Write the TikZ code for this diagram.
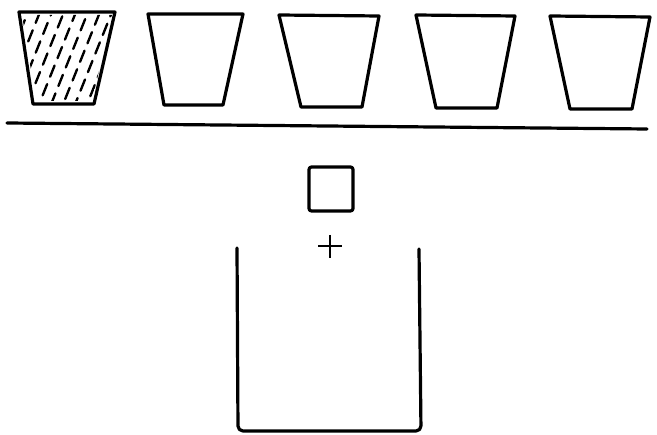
\documentclass[tikz,border=0pt]{standalone}
\begin{document}
\begin{tikzpicture}[x=1pt,y=-1pt,
  ink/.style={line width=3.2pt,line join=round,line cap=round},
  hatchline/.style={line width=2.4pt,line cap=round,dash pattern=on 12pt off 8pt}]
\useasboundingbox (0,0) rectangle (657,435);
% cup 1 (hatched)
\begin{scope}
\clip (22,15) -- (112,15) -- (92,101) -- (36,101) -- cycle;
\foreach \x/\p in {-36/0,-24/7,-12/13,0/4,12/16,24/9,36/2,48/12,60/6,72/17,84/3,96/10,108/14}{
  \draw[hatchline,dash phase=\p pt] (\x,112) -- ++(44,-110);
}
\end{scope}
\draw[ink] (19,12) -- (115,12) -- (94,104) -- (33,104) -- cycle;
% cups 2-5
\draw[ink] (148,14) -- (243,14) -- (223,105) -- (164,105) -- cycle;
\draw[ink] (279,15) -- (379,16) -- (362,107) -- (301,107) -- cycle;
\draw[ink] (416,15) -- (515,16) -- (497,108) -- (436,108) -- cycle;
\draw[ink] (550,16) -- (650,17) -- (632,109) -- (570,109) -- cycle;
% ground line
\draw[ink] (7,123) -- (647,129);
% small square
\draw[ink,rounded corners=2.5pt] (309,167) rectangle (353,211);
% plus
\draw[line width=2.8pt] (318,246) -- (342,246) (330,235) -- (330,258);
% container
\draw[ink,rounded corners=5pt] (237,248) -- (238,431) -- (421,431) -- (419,249);
\end{tikzpicture}
\end{document}
